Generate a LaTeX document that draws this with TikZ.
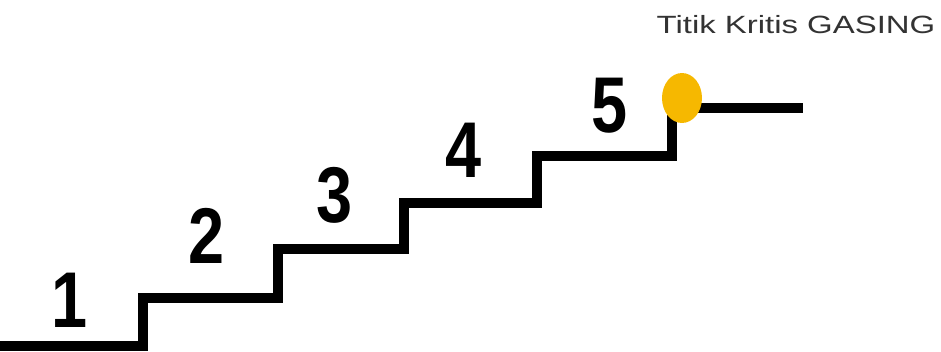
\documentclass[tikz,border=0pt]{standalone}
\usepackage{fontspec}
\setmainfont{Liberation Sans}
\usepackage{graphicx}
\usetikzlibrary{shapes.geometric}
\definecolor{kritis}{HTML}{F6B800}
\tikzset{
  stair/.style={line width=0.2cm},
  stepnum/.style={anchor=base, font=\fontsize{45}{45}\selectfont\bfseries},
}
\begin{document}
\begin{tikzpicture}[x=0.02cm, y=-0.02cm]
            \useasboundingbox (0,0) rectangle (941,352);
            % tangga
            \draw[stair] (0,346) -- (143,346) -- (143,298) -- (278,298) -- (278,249)
                -- (404,249) -- (404,203) -- (537,203) -- (537,156) -- (672,156) -- (672,115);
            \node[stepnum] (n1) at (70,327) {\scalebox{0.82}[1]{1}};
            \node[stepnum] (n2) at (207,263) {\scalebox{0.82}[1]{2}};
            \node[stepnum] (n3) at (335,222) {\scalebox{0.82}[1]{3}};
            \node[stepnum] (n4) at (464,177) {\scalebox{0.82}[1]{4}};
            \node[stepnum] (n5) at (610,132) {\scalebox{0.82}[1]{5}};
            
            % titik kritis
            \coordinate (top) at (682,98);
            \coordinate (rail) at (803,108);
            \draw[stair] (top |- rail) -- (rail);
            \node[ellipse, fill=kritis, minimum width=0.8cm, minimum height=1cm, inner sep=0pt] (dot) at (top) {};
            \node[anchor=base, text=black!80, font=\fontsize{14.2}{15}\selectfont] (judul) at (796,33) {\scalebox{1.32}[1]{Titik Kritis GASING}};
        \end{tikzpicture}
\end{document}
